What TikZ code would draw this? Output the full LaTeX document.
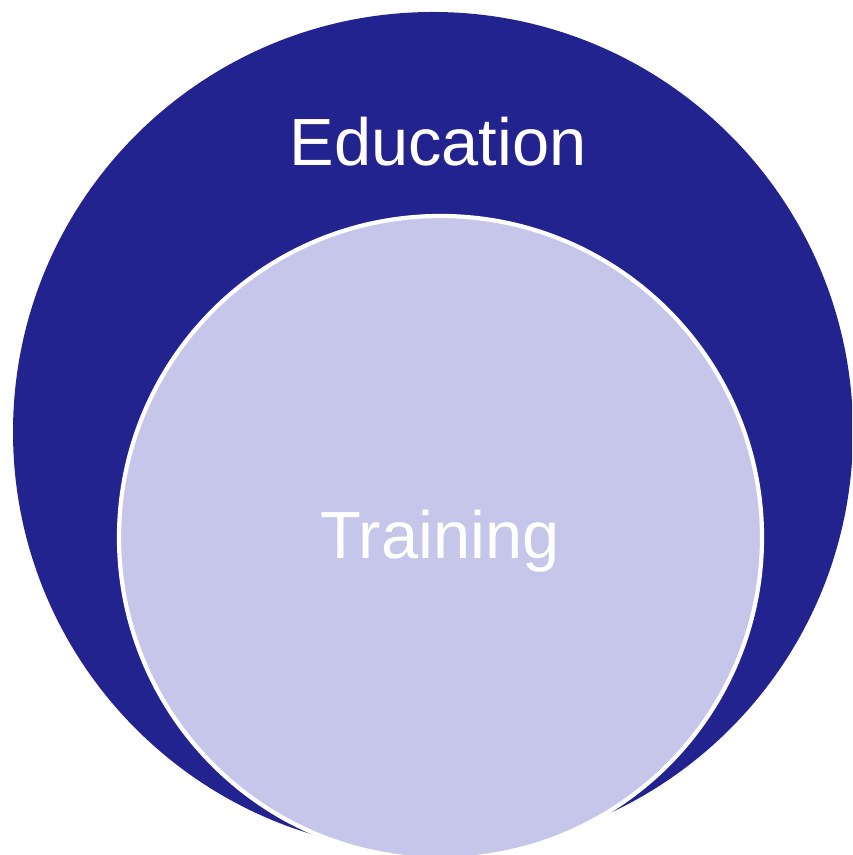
\documentclass[tikz,border=0pt]{standalone}
\usepackage{fontspec}
\setmainfont{Liberation Sans}
\usepackage{tikz}
\definecolor{EduBlue}{RGB}{35, 35, 143}
\definecolor{TrainLilac}{RGB}{198, 198, 234}
\tikzstyle{outer} = [circle, minimum size=8.40cm, inner sep=0pt, fill=EduBlue]
\tikzstyle{inner} = [circle, minimum size=6.43cm, inner sep=0pt, fill=TrainLilac, draw=white, line width=1.2pt]
\tikzstyle{label} = [text=white, font=\fontsize{19}{23}\selectfont]

\begin{document}
\begin{tikzpicture}

\useasboundingbox (0,0) rectangle (8.52,8.55);
\clip (0,0) rectangle (8.52,8.55);

% Circles
\node (edu) [outer] at (4.33,4.23) {};
\node (train) [inner] at (4.405,3.175) {};

% Labels
\node (edutext) [label] at (4.38,7.13) {Education};
\node (traintext) [label] at (4.40,3.14) {Training};

\end{tikzpicture}
\end{document}
